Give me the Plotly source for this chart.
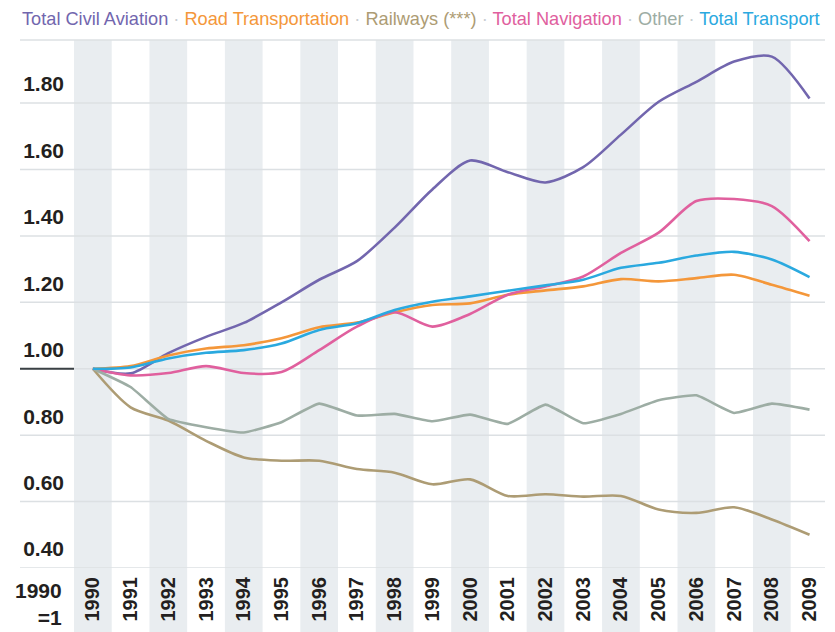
import plotly.graph_objects as go

YEARS = list(range(1990, 2010))
YEAR_LABELS = [str(y) for y in YEARS]

civil_aviation = [1.00, 0.986, 1.047, 1.096, 1.138, 1.200, 1.268, 1.324, 1.425, 1.540, 1.627, 1.592,
                  1.561, 1.607, 1.705, 1.804, 1.864, 1.925, 1.940, 1.814]
road_transport = [1.00, 1.008, 1.040, 1.061, 1.071, 1.092, 1.125, 1.139, 1.170, 1.192, 1.197, 1.223,
                  1.236, 1.248, 1.270, 1.263, 1.273, 1.283, 1.253, 1.220]
railways = [1.00, 0.884, 0.844, 0.783, 0.733, 0.723, 0.723, 0.698, 0.687, 0.652, 0.667, 0.617,
            0.622, 0.615, 0.617, 0.576, 0.566, 0.583, 0.546, 0.500]
total_navigation = [1.00, 0.980, 0.987, 1.008, 0.987, 0.990, 1.056, 1.127, 1.170, 1.127, 1.165, 1.223,
                    1.248, 1.278, 1.349, 1.410, 1.505, 1.511, 1.490, 1.384]
other = [1.00, 0.945, 0.849, 0.824, 0.808, 0.839, 0.895, 0.859, 0.864, 0.842, 0.862, 0.834,
         0.892, 0.836, 0.864, 0.905, 0.920, 0.867, 0.895, 0.877]
total_transport = [1.00, 1.004, 1.031, 1.048, 1.056, 1.076, 1.117, 1.137, 1.177, 1.202, 1.218, 1.235,
                   1.251, 1.268, 1.304, 1.319, 1.341, 1.352, 1.329, 1.276]

SERIES_NAMES = ["Total Civil Aviation", "Road Transportation", "Railways (***)",
                "Total Navigation", "Other", "Total Transport"]
SERIES_VALUES = [civil_aviation, road_transport, railways, total_navigation, other, total_transport]
COLORS = ["#7266ae", "#f4973a", "#ad9c74", "#e0609e", "#9dada4", "#2aa9df"]

Y_TICKS = [0.40, 0.60, 0.80, 1.00, 1.20, 1.40, 1.60, 1.80]
Y_TICK_LABELS = ["0.40", "0.60", "0.80", "1.00", "1.20", "1.40", "1.60", "1.80"]
BASE_LABEL = "1990<br>=1"

FONT = "Liberation Sans, Arial, sans-serif"
TEXT = "#231f20"
BAND = "#e9edf0"
GRID = "#dce0e3"

# the page body adds an 8px offset, so the figure is 8px smaller and shifted
W, H = 827, 624
ML, MR, MT, MB = 66, 10, 32, 64
PW, PH = W - ML - MR, H - MT - MB
LEFT_EXT = -(ML - 12) / PW

fig = go.Figure()
for name, vals, col in zip(SERIES_NAMES, SERIES_VALUES, COLORS):
    fig.add_trace(go.Scatter(
        x=YEARS, y=vals, name=name, mode="lines",
        line=dict(color=col, width=2.6, shape="spline",
                  smoothing=0.4 if name == "Other" else 0.8),
        showlegend=False, hoverinfo="x+y+name"))

shapes = []
for yr in YEARS[::2]:
    shapes.append(dict(type="rect", xref="x", yref="paper", x0=yr - 0.5, x1=yr + 0.5,
                       y0=-MB / PH, y1=1, fillcolor=BAND, line=dict(width=0), layer="below"))
for v in Y_TICKS:
    shapes.append(dict(type="line", xref="paper", yref="y", x0=LEFT_EXT, x1=1, y0=v, y1=v,
                       line=dict(color=GRID, width=1.5), layer="below"))
shapes.append(dict(type="line", xref="paper", yref="paper", x0=LEFT_EXT, x1=1, y0=1, y1=1,
                   line=dict(color=GRID, width=1.5), layer="below"))
shapes.append(dict(type="line", xref="paper", yref="y", x0=LEFT_EXT, x1=0, y0=1.0, y1=1.0,
                   line=dict(color="#3a4145", width=1.8), layer="below"))

sep = '<span style="color:#c9ced2"> · </span>'
legend_text = sep.join(f'<span style="color:{c}">{n}</span>' for n, c in zip(SERIES_NAMES, COLORS))

annotations = [
    dict(text=legend_text, xref="paper", yref="paper", x=LEFT_EXT, y=1 + (MT - 11) / PH,
         xanchor="left", yanchor="middle", showarrow=False,
         font=dict(family=FONT, size=18.2, color="#555")),
    dict(text=BASE_LABEL, xref="paper", yref="paper", x=-(ML - 56) / PW, y=-(596 - (H - MB)) / PH,
         xanchor="right", yanchor="middle", align="right", showarrow=False,
         font=dict(family=FONT, size=21, color=TEXT, weight="bold")),
]

fig.update_layout(
    width=W, height=H, margin=dict(l=ML, r=MR, t=MT, b=MB, autoexpand=False),
    plot_bgcolor="white", paper_bgcolor="white",
    shapes=shapes, annotations=annotations,
    xaxis=dict(range=[1989.5, 2009.41], tickvals=YEARS, ticktext=YEAR_LABELS, tickangle=-90,
               showgrid=False, zeroline=False, showline=False, ticks="", automargin=False,
               tickfont=dict(family=FONT, size=20, color=TEXT, weight="bold"),
               ticklabelstandoff=4, fixedrange=True),
    yaxis=dict(range=[0.40, 1.99], tickvals=Y_TICKS, ticktext=Y_TICK_LABELS,
               showgrid=False, zeroline=False, showline=False, ticks="", automargin=False,
               tickfont=dict(family=FONT, size=21, color=TEXT, weight="bold"),
               ticklabelshift=-19, ticklabelstandoff=9, fixedrange=True),
)

fig.write_html("out.html")
